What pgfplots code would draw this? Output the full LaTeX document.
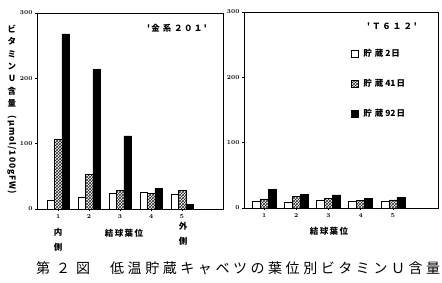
\documentclass[border=0pt]{standalone}
\usepackage{fontspec}
\usepackage{pgfplots}
\usepackage{pgfplotstable}
\pgfplotsset{compat=1.18}
\usetikzlibrary{patterns}
\newfontfamily\jp{Noto Sans CJK JP}
\pgfplotstableread{
x w h b
1 14 106 268
2 18 53 214
3 24 28 112
4 25 24 31
5 22 28 7
}\kinkei
\pgfplotstableread{
x w h b
1 11 14 28
2 9 18 21
3 12 15 20
4 10 12 15
5 10 12.5 16
}\tsix
\newcommand\kk{\kern1pt}
\begin{document}
\begin{tikzpicture}
\useasboundingbox (0pt,0pt) rectangle (442pt,282pt);
\pgfplotsset{
 myax/.style={scale only axis, anchor=south west,
  ymin=0, ymax=300, ytick={0,100,200,300}, xtick={1,2,3,4,5},
  ybar=0pt, bar width=7.5pt,
  axis line style={line width=0.8pt},
  tick style={line width=0.6pt, black}, major tick length=2pt,
  tick align=outside, xtick pos=bottom, ytick pos=left,
  tick label style={font=\fontsize{6.5}{6.5}\selectfont\boldmath},
  yticklabel style={xshift=1pt},
 },
 wbar/.style={draw=black, fill=white, line width=0.5pt},
 hbar/.style={draw=black, line width=0.5pt, pattern=crosshatch, pattern color=black!85},
 bbar/.style={draw=black, fill=black, line width=0.5pt},
}
\begin{axis}[myax, at={(37pt,73pt)}, width=186pt, height=196pt, xmin=0.32, xmax=6.32]
\addplot[wbar] table[x=x,y=w]{\kinkei};
\addplot[hbar] table[x=x,y=h]{\kinkei};
\addplot[bbar] table[x=x,y=b]{\kinkei};
\end{axis}
\begin{axis}[myax, at={(244pt,74pt)}, width=194pt, height=196pt, xmin=0.375, xmax=6.4, bar width=8pt,
  legend style={draw=none, fill=none, at={(0.55,0.815)}, anchor=north west, inner sep=0pt,
    font=\jp\fontsize{8.5}{8.5}\selectfont\bfseries, row sep=19pt, nodes={inner sep=1pt}},
  legend image code/.code={\draw[#1, line width=0.5pt] (0pt,-3.5pt) rectangle (7pt,3.5pt);},
  legend cell align=left]
\addplot[wbar] table[x=x,y=w]{\tsix};
\addplot[hbar] table[x=x,y=h]{\tsix};
\addplot[bbar] table[x=x,y=b]{\tsix};
\legend{\ \ 貯\hspace{3pt}蔵\hspace{2pt}2\hspace{1pt}日, \ \ 貯\hspace{3pt}蔵\hspace{2pt}41\hspace{1pt}日, \ \ 貯\hspace{3pt}蔵\hspace{2pt}92\hspace{1pt}日}
\end{axis}
% titles
\node[font=\jp\fontsize{8.5}{8.5}\selectfont\bfseries] at (177pt,254pt) {'\,金\,\,系\,\,２\,０\,１\,'};
\node[font=\jp\fontsize{8.5}{8.5}\selectfont\bfseries] at (392pt,256pt) {'\hspace{2pt}Ｔ\hspace{2pt}６\hspace{2pt}１\hspace{2pt}２\hspace{2pt}'};
% y label
\node[font=\jp\fontsize{8.5}{8.5}\selectfont\bfseries, align=center, inner sep=0pt] at (12pt,216pt)
  {ビ\\[3.8pt]タ\\[3.8pt]ミ\\[3.8pt]ン\\[3.8pt]U\\[3.8pt]含\\[3.8pt]量};
\node[font=\jp\fontsize{8.5}{8.5}\selectfont\bfseries, rotate=-90, inner sep=0pt] at (12pt,127pt) {(\kk μ\kk m\kk o\kk l\kk /\kk 1\kk 0\kk 0\kk g\kk F\kk W\kk )};
% x labels
\node[font=\jp\fontsize{8.5}{8.5}\selectfont\bfseries] at (58pt,50pt) {内};
\node[font=\jp\fontsize{8.5}{8.5}\selectfont\bfseries] at (58pt,35pt) {側};
\node[font=\jp\fontsize{8.5}{8.5}\selectfont\bfseries] at (124pt,49pt) {結\,球\,葉\,位};
\node[font=\jp\fontsize{8.5}{8.5}\selectfont\bfseries] at (183pt,56pt) {外};
\node[font=\jp\fontsize{8.5}{8.5}\selectfont\bfseries] at (183pt,41pt) {側};
\node[font=\jp\fontsize{8.5}{8.5}\selectfont\bfseries] at (329pt,51pt) {結\,球\,葉\,位};
% caption
\node[font=\jp\fontsize{14}{14}\selectfont, anchor=west, inner sep=0pt] at (36pt,14pt)
  {\makebox[54pt][l]{第\hfill ２\hfill 図}\hspace{20pt}\makebox[330pt][l]{低\hfill 温\hfill 貯\hfill 蔵\hfill キ\hfill ャ\hfill ベ\hfill ツ\hfill の\hfill 葉\hfill 位\hfill 別\hfill ビ\hfill タ\hfill ミ\hfill ン\hfill Ｕ\hfill 含\hfill 量}};
\end{tikzpicture}
\end{document}
